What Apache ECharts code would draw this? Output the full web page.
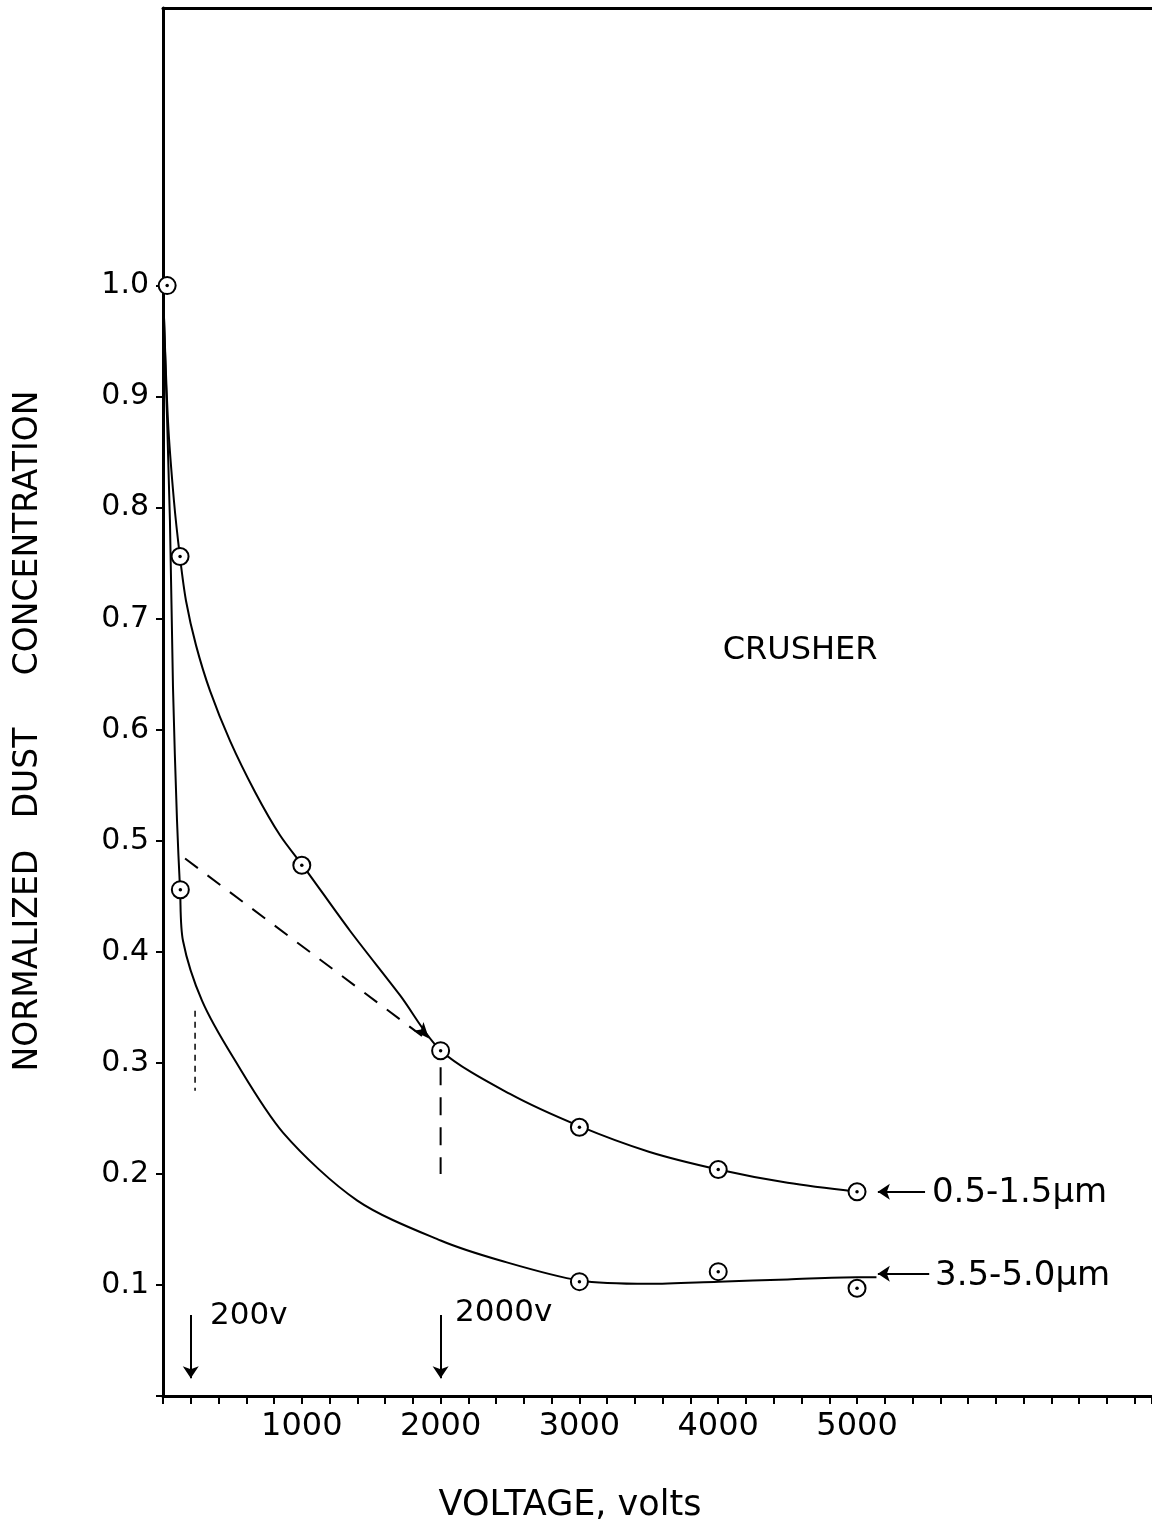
<!DOCTYPE html>
<html>
<head>
<meta charset="utf-8">
<script src="https://cdn.jsdelivr.net/npm/echarts@6/dist/echarts.min.js"></script>
<style>
html, body { margin: 0; padding: 0; background: #fff; }
#chart { width: 1152px; height: 1528px; }
</style>
</head>
<body>
<div id="chart"></div>
<script>
// fitted curves (volts, normalized concentration)
var upperV = [0, 36, 79, 122, 166, 238, 339, 483, 663, 843, 1023, 1347, 1707, 2003, 2500, 3000, 3500, 4000, 4500, 5000];
var upperC = [1.0, 0.878, 0.806, 0.756, 0.716, 0.676, 0.635, 0.59, 0.544, 0.505, 0.475, 0.419, 0.361, 0.311, 0.272, 0.243, 0.22, 0.204, 0.192, 0.184];
var lowerV = [0, 50, 72, 101, 123, 144, 281, 505, 866, 1400, 2000, 2430, 3000, 3500, 4000, 4500, 5000, 5140];
var lowerC = [1.0, 0.788, 0.638, 0.518, 0.456, 0.41, 0.356, 0.305, 0.237, 0.176, 0.14, 0.122, 0.104, 0.101, 0.103, 0.105, 0.107, 0.107];

// measured points
var upperPtV = [30, 123, 1000, 2000, 3000, 4000, 5000];
var upperPtC = [1.0, 0.756, 0.478, 0.311, 0.242, 0.204, 0.184];
var lowerPtV = [125, 3000, 4000, 5000];
var lowerPtC = [0.456, 0.103, 0.112, 0.097];

// construction lines
var dashV = [159, 1912];
var dashC = [0.484, 0.32];
var vDashV = [2000, 2000];
var vDashC = [0.296, 0.2];
var dotV = [231, 231];
var dotC = [0.347, 0.275];
var headV = [1916];
var headC = [0.322];

// arrows and notes
var arrowV = [[200, 200], [2000, 2000], [5490, 5150], [5520, 5150]];
var arrowC = [[0.073, 0.016], [0.073, 0.016], [0.184, 0.184], [0.11, 0.11]];
var noteText = ["CRUSHER", "200v", "2000v", "0.5-1.5\u03bcm", "3.5-5.0\u03bcm"];
var noteV = [4590, 339, 2104, 5540, 5562];
var noteC = [0.671, 0.072, 0.075, 0.183, 0.108];

var yLabels = [0.1, 0.2, 0.3, 0.4, 0.5, 0.6, 0.7, 0.8, 0.9, 1.0];
var yTicks = [0, 0.1, 0.2, 0.3, 0.4, 0.5, 0.6, 0.7, 0.8, 0.9, 1.0];
var xLabels = [1000, 2000, 3000, 4000, 5000];

var FONT = "DejaVu Sans";

function pairs(xs, ys) {
  return xs.map(function (x, i) { return [x, ys[i]]; });
}

var noteSize = [32, 31, 31, 34, 34];
var notes = noteText.map(function (t, i) {
  return {
    name: t,
    value: [noteV[i], noteC[i]],
    label: {
      position: i === 0 ? "inside" : "right",
      distance: 0,
      fontSize: noteSize[i],
      color: "#000"
    }
  };
});

var arrows = arrowV.map(function (v, i) {
  return [{ coord: [v[0], arrowC[i][0]] }, { coord: [v[1], arrowC[i][1]] }];
});

var option = {
  backgroundColor: "#fff",
  animation: false,
  grid: { left: 163, right: 0, top: 8, bottom: 131, containLabel: false },
  xAxis: [
    {
      type: "value",
      min: 0,
      max: 7125,
      interval: 200,
      name: "VOLTAGE, volts",
      nameLocation: "middle",
      nameGap: 92,
      nameTextStyle: { fontSize: 35, fontFamily: FONT, color: "#000", padding: [0, 175, 0, 0] },
      axisLine: { show: true, lineStyle: { color: "#000", width: 3 } },
      axisTick: { show: true, length: 8, lineStyle: { color: "#000", width: 2 } },
      axisLabel: {
        customValues: xLabels,
        margin: 15,
        fontSize: 32,
        fontFamily: FONT,
        color: "#000",
        formatter: function (v) { return String(v); }
      },
      splitLine: { show: false }
    },
    {
      type: "value",
      position: "top",
      min: 0,
      max: 7125,
      axisLine: { show: true, lineStyle: { color: "#000", width: 3 } },
      axisTick: { show: false },
      axisLabel: { show: false },
      splitLine: { show: false }
    }
  ],
  yAxis: {
    type: "value",
    min: 0,
    max: 1.25,
    name: "NORMALIZED   DUST     CONCENTRATION",
    nameLocation: "middle",
    nameGap: 118,
    nameRotate: 90,
    nameTextStyle: { fontSize: 33, fontFamily: FONT, color: "#000", padding: [0, 58, 0, 0] },
    axisLine: { show: true, lineStyle: { color: "#000", width: 3 } },
    axisTick: { show: true, customValues: yTicks, length: 7, lineStyle: { color: "#000", width: 2 } },
    axisLabel: {
      customValues: yLabels,
      margin: 14,
      fontSize: 30,
      fontFamily: FONT,
      color: "#000",
      formatter: function (v) { return v.toFixed(1); }
    },
    splitLine: { show: false }
  },
  series: [
    {
      name: "0.5-1.5",
      type: "line",
      data: pairs(upperV, upperC),
      smooth: 0.3,
      showSymbol: false,
      lineStyle: { color: "#000", width: 2 }
    },
    {
      name: "3.5-5.0",
      type: "line",
      data: pairs(lowerV, lowerC),
      smooth: 0.3,
      showSymbol: false,
      lineStyle: { color: "#000", width: 2 }
    },
    {
      type: "line",
      data: pairs(dashV, dashC),
      showSymbol: false,
      lineStyle: { color: "#000", width: 2, type: [16, 12] },
      markLine: {
        silent: true,
        symbol: ["none", "arrow"],
        symbolSize: 12,
        label: { show: false },
        lineStyle: { color: "#000", width: 2, type: "solid" },
        data: arrows
      }
    },
    {
      type: "line",
      data: pairs(vDashV, vDashC),
      showSymbol: false,
      lineStyle: { color: "#000", width: 2, type: [18, 12] }
    },
    {
      type: "line",
      data: pairs(dotV, dotC),
      showSymbol: false,
      lineStyle: { color: "#000", width: 1.5, type: [6, 5] }
    },
    {
      type: "scatter",
      data: pairs(headV, headC),
      symbol: "arrow",
      symbolSize: [10, 16],
      symbolRotate: -139,
      itemStyle: { color: "#000", opacity: 1 }
    },
    {
      type: "scatter",
      data: pairs(upperPtV, upperPtC).concat(pairs(lowerPtV, lowerPtC)),
      symbol: "circle",
      symbolSize: 17,
      itemStyle: { color: "#fff", borderColor: "#000", borderWidth: 2, opacity: 1 },
      z: 5
    },
    {
      type: "scatter",
      data: pairs(upperPtV, upperPtC).concat(pairs(lowerPtV, lowerPtC)),
      symbol: "circle",
      symbolSize: 3.5,
      itemStyle: { color: "#000", opacity: 1 },
      z: 6
    },
    {
      type: "scatter",
      data: notes,
      symbolSize: 0,
      silent: true,
      itemStyle: { opacity: 1 },
      label: {
        show: true,
        formatter: "{b}",
        color: "#000",
        fontFamily: FONT
      }
    }
  ]
};

var myChart = echarts.init(document.getElementById("chart"));
myChart.setOption(option);
window.addEventListener("resize", function () {
  myChart.resize();
});
</script>
</body>
</html>
